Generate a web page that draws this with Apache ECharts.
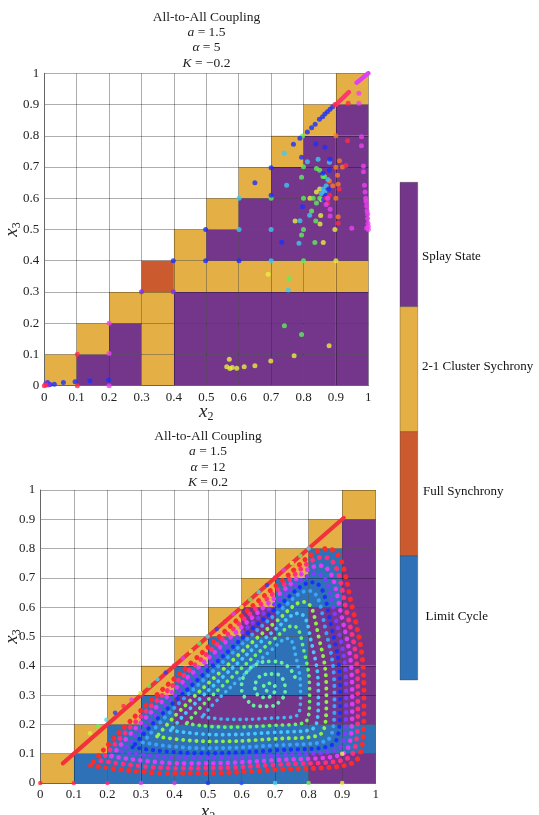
<!DOCTYPE html>
<html>
<head>
<meta charset="utf-8">
<script src="https://cdn.jsdelivr.net/npm/echarts@6/dist/echarts.min.js"></script>
<style>
  html, body { margin: 0; padding: 0; background: #fff; }
  #chart { width: 539px; height: 815px; }
</style>
</head>
<body>
<div id="chart"></div>
<script>
// ---- state categories (index 0 = no state) ----
const stateNames = ['', 'Limit Cycle', 'Full Synchrony', '2-1 Cluster Sychrony', 'Splay State'];
const stateColors = ['#ffffff', '#2e71b6', '#cb5b2e', '#e4b045', '#74368b'];

// ---- basin cells, rows from x3 = 0 upward, columns along x2 ----
const topStates = [
  [3,4,4,3,4,4,4,4,4,4],
  [0,3,4,3,4,4,4,4,4,4],
  [0,0,3,3,4,4,4,4,4,4],
  [0,0,0,2,3,3,3,3,3,3],
  [0,0,0,0,3,4,4,4,4,4],
  [0,0,0,0,0,3,4,4,4,4],
  [0,0,0,0,0,0,3,4,4,4],
  [0,0,0,0,0,0,0,3,4,4],
  [0,0,0,0,0,0,0,0,3,4],
  [0,0,0,0,0,0,0,0,0,3]
];
const bottomStates = [
  [3,1,1,1,1,1,1,1,4,4],
  [0,3,1,1,1,1,1,1,1,1],
  [0,0,3,1,4,4,4,4,4,4],
  [0,0,0,3,1,1,1,1,4,4],
  [0,0,0,0,3,1,1,1,4,4],
  [0,0,0,0,0,3,4,1,4,4],
  [0,0,0,0,0,0,3,1,1,4],
  [0,0,0,0,0,0,0,3,1,4],
  [0,0,0,0,0,0,0,0,3,4],
  [0,0,0,0,0,0,0,0,0,3]
];

// ---- axis ticks ----
const tickLabels = ['0','0.1','0.2','0.3','0.4','0.5','0.6','0.7','0.8','0.9','1'];

// ---- K = -0.2 trajectory end points (x2, x3) ----
const topBlue = [[0.650,0.650],[0.700,0.698],[0.700,0.610],[0.498,0.500],[0.498,0.400],[0.398,0.400],
  [0.601,0.400],[0.733,0.459],[0.769,0.773],[0.789,0.792],[0.812,0.812],[0.825,0.826],[0.836,0.837],
  [0.849,0.853],[0.859,0.861],[0.866,0.870],[0.874,0.877],[0.882,0.885],[0.890,0.893],[0.794,0.731],
  [0.838,0.774],[0.866,0.763],[0.882,0.725],[0.797,0.573],[0.869,0.610],[0.878,0.630],[0.862,0.595],
  [0.880,0.690],[0.860,0.680],[0.031,0.005],[0.059,0.010],[0.095,0.013],[0.141,0.016],[0.198,0.018],
  [0.010,0.010],[0.018,0.004]];
const topViolet = [[0.398,0.301],[0.300,0.301],[0.005,0.008],[0.013,0.002]];
const topCyan = [[0.741,0.744],[0.748,0.642],[0.601,0.600],[0.601,0.500],[0.700,0.500],[0.700,0.400],
  [0.819,0.546],[0.786,0.456],[0.789,0.528],[0.753,0.306],[0.812,0.717],[0.845,0.725],[0.860,0.630],
  [0.866,0.620],[0.855,0.615],[0.870,0.640],[0.875,0.660],[0.880,0.715]];
const topGreen = [[0.797,0.799],[0.800,0.701],[0.794,0.667],[0.800,0.600],[0.700,0.600],[0.800,0.500],
  [0.794,0.482],[0.838,0.527],[0.835,0.458],[0.825,0.559],[0.800,0.400],[0.755,0.343],[0.741,0.192],
  [0.794,0.164],[0.840,0.695],[0.850,0.690],[0.860,0.670],[0.830,0.600],[0.840,0.585],[0.850,0.600],
  [0.865,0.670]];
const topYellow = [[0.900,0.400],[0.897,0.500],[0.774,0.527],[0.851,0.518],[0.861,0.458],[0.691,0.357],
  [0.879,0.128],[0.771,0.096],[0.699,0.079],[0.650,0.064],[0.617,0.061],[0.594,0.056],[0.573,0.055],
  [0.563,0.061],[0.571,0.085],[0.580,0.058],[0.853,0.545],[0.820,0.600],[0.850,0.630],[0.840,0.620],
  [0.856,0.595]];
const topOrange = [[0.900,0.800],[0.911,0.720],[0.900,0.699],[0.905,0.674],[0.907,0.645],[0.900,0.600],
  [0.907,0.541],[0.920,0.700],[0.880,0.655],[0.890,0.640]];
const topRed = [[0.938,0.904],[0.897,0.900],[0.936,0.784],[0.931,0.705],[0.907,0.520],[0.910,0.630],
  [0.870,0.600],[0.875,0.585],[0.880,0.610],[0.102,0.101],[0.102,0.000],[0.000,0.000],[0.005,0.002]];
const topMagenta = [[0.971,0.936],[0.971,0.904],[0.979,0.797],[0.979,0.768],[0.985,0.703],[0.985,0.685],
  [0.949,0.504],[0.882,0.565],[0.882,0.543],[0.988,0.642],[0.990,0.620],[0.992,0.600],[0.993,0.590],
  [0.995,0.575],[0.996,0.560],[0.998,0.550],[0.998,0.535],[0.999,0.520],[1.000,0.510],[1.000,0.500],
  [0.995,0.505],[0.200,0.103],[0.200,0.200],[0.200,0.000],[0.875,0.600],[0.870,0.580]];
const topRoseRun = [[0.900,0.900],[0.940,0.940]];
const topMagentaRun = [[0.964,0.970],[1.000,1.000]];

// ---- K = 0.2 quasi-periodic orbits, outermost first ----
const orbit1 = [[0.15,0.06],[0.40,0.033],[0.70,0.045],[0.94,0.075],[0.965,0.28],[0.93,0.60],[0.855,0.80],[0.72,0.69],[0.45,0.41],[0.25,0.19],[0.15,0.06]];
const orbit2 = [[0.181,0.076],[0.416,0.050],[0.698,0.062],[0.924,0.090],[0.947,0.282],[0.914,0.583],[0.844,0.771],[0.717,0.668],[0.463,0.405],[0.275,0.198],[0.181,0.076]];
const orbit3 = [[0.212,0.091],[0.432,0.067],[0.696,0.078],[0.908,0.104],[0.930,0.285],[0.899,0.566],[0.833,0.742],[0.714,0.646],[0.476,0.399],[0.300,0.206],[0.212,0.091]];
const orbit4 = [[0.244,0.107],[0.449,0.085],[0.695,0.095],[0.891,0.119],[0.912,0.287],[0.883,0.550],[0.822,0.714],[0.711,0.623],[0.490,0.394],[0.326,0.213],[0.244,0.107]];
const orbit5 = [[0.275,0.122],[0.465,0.102],[0.693,0.111],[0.875,0.134],[0.894,0.290],[0.868,0.533],[0.811,0.685],[0.708,0.601],[0.503,0.388],[0.351,0.221],[0.275,0.122]];
const orbit6 = [[0.306,0.138],[0.481,0.119],[0.691,0.128],[0.859,0.149],[0.877,0.292],[0.852,0.516],[0.800,0.656],[0.705,0.579],[0.516,0.383],[0.376,0.229],[0.306,0.138]];
const orbit7 = [[0.348,0.159],[0.503,0.142],[0.689,0.150],[0.837,0.168],[0.853,0.295],[0.831,0.494],[0.785,0.618],[0.701,0.549],[0.534,0.376],[0.410,0.239],[0.348,0.159]];
const orbit8 = [[0.389,0.180],[0.524,0.165],[0.686,0.172],[0.816,0.188],[0.829,0.298],[0.810,0.471],[0.770,0.579],[0.697,0.520],[0.551,0.369],[0.443,0.250],[0.389,0.180]];
const orbit9 = [[0.436,0.203],[0.549,0.191],[0.684,0.196],[0.792,0.210],[0.803,0.302],[0.787,0.446],[0.753,0.536],[0.693,0.487],[0.571,0.361],[0.481,0.262],[0.436,0.203]];
const orbit10 = [[0.483,0.226],[0.573,0.217],[0.681,0.221],[0.767,0.232],[0.776,0.306],[0.764,0.421],[0.737,0.493],[0.688,0.453],[0.591,0.352],[0.519,0.273],[0.483,0.226]];
const spiral = [[0.675,0.315],[0.665,0.325],[0.672,0.338],[0.690,0.340],[0.700,0.325],[0.695,0.305],
  [0.675,0.292],[0.652,0.298],[0.640,0.320],[0.645,0.350],[0.668,0.370],[0.700,0.372],[0.725,0.350],
  [0.730,0.315],[0.715,0.280],[0.685,0.262],[0.648,0.262],[0.615,0.285],[0.600,0.325],[0.610,0.370],
  [0.645,0.405],[0.690,0.415],[0.735,0.400],[0.760,0.360]];
const syncLine = [[0.067,0.067],[0.905,0.905]];
const diagDots = [[0.148,0.170],[0.172,0.194],[0.197,0.216],[0.223,0.240],[0.248,0.263],[0.272,0.284],
  [0.298,0.307],[0.324,0.331],[0.349,0.354],[0.374,0.377],[0.399,0.401],[0.425,0.426],[0.449,0.450],
  [0.474,0.476],[0.499,0.500],[0.526,0.526],[0.551,0.551],[0.576,0.577],[0.600,0.601],[0.626,0.626],
  [0.651,0.652],[0.676,0.676],[0.700,0.701],[0.726,0.726],[0.750,0.751],[0.775,0.776],[0.800,0.800]];
const edgeDots = [[0,0],[0.1,0],[0.2,0],[0.3,0],[0.4,0],[0.5,0],[0.6,0],[0.7,0],[0.8,0],[0.9,0],[0.9,0.1]];

// ---- styling ----
const FONT = '"Liberation Serif", "DejaVu Serif", serif';
const orbitColors = ['#ff2a2a','#ff2f7d','#e03cf5','#7f3cff','#1830ff','#3aa2ff','#8ff04a','#47c9ff','#6cf26a','#3fb7f5'];
const orbitWidths = [5,4.8,4.6,4.4,4.2,4,3.9,3.8,3.7,3.6];
const diagPalette = ['#d8f040','#6cf060','#47d8f0','#2440ff','#ff2a50','#e040f0'];
const edgeColors = ['#ff2a2a','#ff2a40','#ff2a70','#e03cf5','#d03cf5','#2030ff','#2a50ff','#40d8f0','#70f050','#f0f040','#f0f040'];

const chart = echarts.init(document.getElementById('chart'), null, { renderer: 'canvas' });

function cellData(states) {
  const out = [];
  states.forEach((row, r) => row.forEach((s, c) => { if (s > 0) out.push([c / 10, r / 10, s]); }));
  return out;
}

function cellSeries(states, idx) {
  return {
    type: 'custom', xAxisIndex: idx, yAxisIndex: idx, z: 1, silent: true,
    data: cellData(states),
    encode: { x: 0, y: 1 },
    renderItem: function (params, api) {
      const x = api.value(0), y = api.value(1), s = api.value(2);
      const p1 = api.coord([x, y + 0.1]);
      const p2 = api.coord([x + 0.1, y]);
      return { type: 'rect', shape: { x: p1[0], y: p1[1], width: p2[0] - p1[0], height: p2[1] - p1[1] },
               style: { fill: stateColors[s] } };
    }
  };
}

function dots(data, color, idx, size) {
  return { type: 'scatter', xAxisIndex: idx, yAxisIndex: idx, z: 6, silent: true,
           symbolSize: size || 5, data: data, itemStyle: { color: color } };
}

function dottedLoop(data, color, width) {
  return { type: 'line', xAxisIndex: 1, yAxisIndex: 1, z: 5, silent: true, smooth: 0.45,
           showSymbol: false, data: data,
           lineStyle: { color: color, width: width, type: [0.1, width + 2.6], cap: 'round' } };
}

const fmt = v => tickLabels[Math.round(v * 10)];

const nameRich = {
  i: { fontFamily: FONT, fontStyle: 'italic', fontSize: 19, color: '#222', lineHeight: 22 },
  s: { fontFamily: FONT, fontSize: 12, color: '#222', lineHeight: 22, padding: [10, 0, 0, 0] }
};

function xAxis(idx, gap) {
  return {
    type: 'value', gridIndex: idx, min: 0, max: 1, interval: 0.1, z: 3,
    axisLine: { show: true, lineStyle: { color: '#666', width: 1 } },
    axisTick: { show: false },
    splitLine: { show: true, lineStyle: { color: 'rgba(0,0,0,0.32)', width: 1 } },
    axisLabel: { formatter: fmt, fontFamily: FONT, fontSize: 13, color: '#222', margin: 5 },
    name: '{i|x}{s|2}', nameLocation: 'middle', nameGap: gap, nameMoveOverlap: false,
    nameTextStyle: { rich: nameRich }
  };
}
function yAxis(idx, gap) {
  return {
    type: 'value', gridIndex: idx, min: 0, max: 1, interval: 0.1, z: 3,
    axisLine: { show: true, lineStyle: { color: '#666', width: 1 } },
    axisTick: { show: false },
    splitLine: { show: true, lineStyle: { color: 'rgba(0,0,0,0.32)', width: 1 } },
    axisLabel: { formatter: fmt, fontFamily: FONT, fontSize: 13, color: '#222', margin: 5 },
    name: '{i|x}{s|3}', nameLocation: 'middle', nameGap: gap, nameRotate: 90, nameMoveOverlap: false,
    nameTextStyle: { rich: nameRich }
  };
}

function titleText(cx, top, kText, alphaText) {
  const t = { fontFamily: FONT, fontSize: 13.5, fill: '#222', lineHeight: 15.3 };
  const it = Object.assign({}, t, { fontStyle: 'italic' });
  return {
    type: 'text', x: cx, y: top, silent: true,
    style: {
      text: '{t|All-to-All Coupling}\n{i|a}{t| = 1.5}\n{i|α}{t| = ' + alphaText + '}\n{i|K}{t| = ' + kText + '}',
      align: 'center', verticalAlign: 'top', rich: { t: t, i: it }
    }
  };
}

// colour bar key
const barX = 400, barW = 17.7;
const barEdges = [182.3, 306.7, 431.7, 556, 680];
const barOrder = [4, 3, 2, 1];
const barLabelY = [256.7, 366.7, 491.7, 616.7];
const barLabelX = [422, 422, 423, 425.5];
const keyGraphics = [];
barOrder.forEach((s, i) => {
  keyGraphics.push({ type: 'rect', silent: true,
    shape: { x: barX, y: barEdges[i], width: barW, height: barEdges[i + 1] - barEdges[i] },
    style: { fill: stateColors[s], stroke: 'rgba(60,60,60,0.6)', lineWidth: 0.6 } });
  keyGraphics.push({ type: 'text', silent: true, x: barLabelX[i], y: barLabelY[i],
    style: { text: stateNames[s], fontFamily: FONT, fontSize: 13, fill: '#111', verticalAlign: 'middle', align: 'left' } });
});

const series = [
  cellSeries(topStates, 0),
  cellSeries(bottomStates, 1),
  // K = -0.2 panel
  { type: 'line', xAxisIndex: 0, yAxisIndex: 0, z: 5, silent: true, showSymbol: false, data: topRoseRun,
    lineStyle: { color: '#ff3a6a', width: 4.5, cap: 'round' } },
  { type: 'line', xAxisIndex: 0, yAxisIndex: 0, z: 5, silent: true, showSymbol: false, data: topMagentaRun,
    lineStyle: { color: '#e040f0', width: 4.5, cap: 'round' } },
  dots(topYellow, '#e6f03c', 0),
  dots(topOrange, '#ff7a20', 0),
  dots(topGreen, '#5cf05a', 0),
  dots(topCyan, '#3cc8f5', 0),
  dots(topBlue, '#1a30ff', 0),
  dots(topViolet, '#7a30ff', 0),
  dots(topRed, '#ff2a4a', 0),
  dots(topMagenta, '#ee40f0', 0),
  // K = 0.2 panel
  { type: 'line', xAxisIndex: 1, yAxisIndex: 1, z: 4, silent: true, showSymbol: false, data: syncLine,
    lineStyle: { color: '#f2313a', width: 4, cap: 'round' } }
];
[orbit1, orbit2, orbit3, orbit4, orbit5, orbit6, orbit7, orbit8, orbit9, orbit10].forEach((o, i) => {
  series.push(dottedLoop(o, orbitColors[i], orbitWidths[i]));
});
series.push(dottedLoop(spiral, '#6aeea0', 3.8));
series.push({ type: 'scatter', xAxisIndex: 1, yAxisIndex: 1, z: 6, silent: true, symbolSize: 4.5,
  data: diagDots.map((p, i) => ({ value: p, itemStyle: { color: diagPalette[i % diagPalette.length] } })) });
series.push({ type: 'scatter', xAxisIndex: 1, yAxisIndex: 1, z: 6, silent: true, symbolSize: 4.5,
  data: edgeDots.map((p, i) => ({ value: p, itemStyle: { color: edgeColors[i] } })) });

chart.setOption({
  animation: false,
  backgroundColor: '#ffffff',
  grid: [
    { left: 44.3, top: 73.3, width: 324, height: 312.4, outerBoundsMode: 'none', containLabel: false },
    { left: 40.3, top: 490, width: 335.4, height: 293, outerBoundsMode: 'none', containLabel: false }
  ],
  xAxis: [xAxis(0, 15), xAxis(1, 18)],
  yAxis: [yAxis(0, 21), yAxis(1, 17)],
  graphic: [titleText(206.5, 9.5, '−0.2', '5'), titleText(208, 429, '0.2', '12')].concat(keyGraphics),
  series: series
});
</script>
</body>
</html>
